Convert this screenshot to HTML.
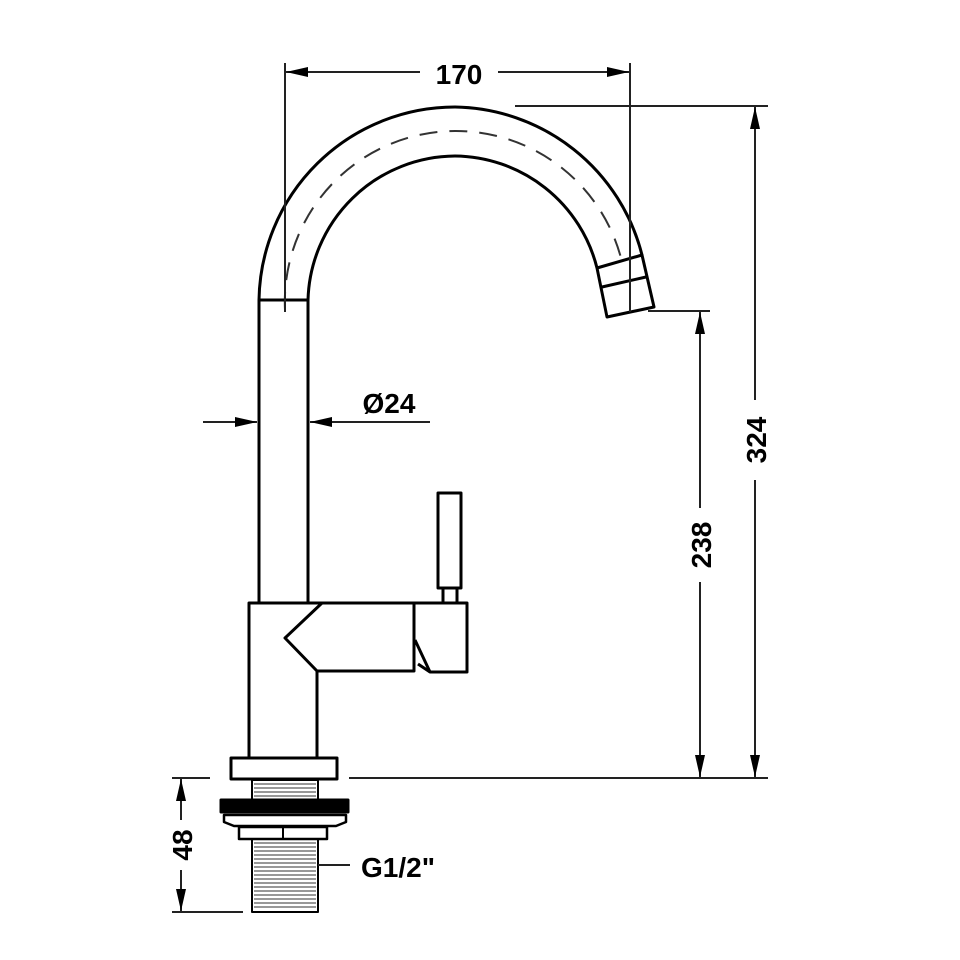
<!DOCTYPE html>
<html><head><meta charset="utf-8"><style>html,body{margin:0;padding:0;background:#fff}svg{display:block}</style></head><body>
<svg width="960" height="960" viewBox="0 0 960 960" xmlns="http://www.w3.org/2000/svg">
<defs>
<marker id="a" markerWidth="22" markerHeight="10" refX="22" refY="5" orient="auto" markerUnits="userSpaceOnUse"><path d="M0,0 L22,5 L0,10 Z" fill="#000"/></marker>
</defs>
<g fill="none" stroke="#000" stroke-width="3" stroke-linejoin="round">
<!-- spout -->
<path d="M259,300 A196,196 0 0 1 455,107 A196,196 0 0 1 642,255"/>
<path d="M308,300 A148,148 0 0 1 455,156 A148,148 0 0 1 597,268"/>
<path d="M597,268 L642,255 L654,307 L607,317 Z"/>
<line x1="602" y1="287" x2="646" y2="277"/>
<path d="M285,310 A171,171 0 0 1 455,131 A171,171 0 0 1 621,258" stroke-width="2" stroke-dasharray="18,12" stroke="#333"/>
<!-- pipe -->
<line x1="259" y1="300" x2="259" y2="603"/>
<line x1="308" y1="300" x2="308" y2="603"/>
<line x1="259" y1="300" x2="308" y2="300"/>
<!-- body -->
<path d="M249,757 L249,603 L467,603 L467,672 L430,672 L415,640"/>
<path d="M317,757 L317,671 L414,671 L414,603"/>
<path d="M322,603 L285,638 L317,671"/>
<line x1="418" y1="664" x2="430" y2="672"/>
<!-- lever -->
<rect x="438" y="493" width="23" height="95"/>
<rect x="443" y="588" width="14" height="15"/>
<!-- flange -->
<rect x="231" y="758" width="106" height="21"/>
<rect x="252" y="780" width="66" height="20" stroke-width="2"/>
<rect x="221" y="800" width="127" height="12" fill="#000"/>
<path d="M224,815 L346,815 L346,822 L336,826 L234,826 L224,822 Z" stroke-width="2.5"/>
<rect x="239" y="827" width="88" height="12" stroke-width="2.5"/>
<line x1="283" y1="827" x2="283" y2="839" stroke-width="2"/>
<rect x="252" y="839" width="66" height="73" stroke-width="2"/>
</g>
<g stroke="#777" stroke-width="1.5">
<line x1="254" y1="784" x2="316" y2="784"/><line x1="254" y1="788" x2="316" y2="788"/><line x1="254" y1="792" x2="316" y2="792"/><line x1="254" y1="796" x2="316" y2="796"/>
<line x1="254" y1="843" x2="316" y2="843"/><line x1="254" y1="847" x2="316" y2="847"/><line x1="254" y1="851" x2="316" y2="851"/><line x1="254" y1="855" x2="316" y2="855"/><line x1="254" y1="859" x2="316" y2="859"/><line x1="254" y1="863" x2="316" y2="863"/><line x1="254" y1="867" x2="316" y2="867"/><line x1="254" y1="871" x2="316" y2="871"/><line x1="254" y1="875" x2="316" y2="875"/><line x1="254" y1="879" x2="316" y2="879"/><line x1="254" y1="883" x2="316" y2="883"/><line x1="254" y1="887" x2="316" y2="887"/><line x1="254" y1="891" x2="316" y2="891"/><line x1="254" y1="895" x2="316" y2="895"/><line x1="254" y1="899" x2="316" y2="899"/><line x1="254" y1="903" x2="316" y2="903"/><line x1="254" y1="907" x2="316" y2="907"/>
</g>
<g stroke="#222" stroke-width="2" fill="none">
<line x1="285" y1="63" x2="285" y2="312"/>
<line x1="630" y1="63" x2="630" y2="312"/>
<line x1="420" y1="72" x2="286" y2="72" marker-end="url(#a)"/>
<line x1="498" y1="72" x2="629" y2="72" marker-end="url(#a)"/>
<line x1="515" y1="106" x2="768" y2="106"/>
<line x1="755" y1="400" x2="755" y2="107" marker-end="url(#a)"/>
<line x1="755" y1="480" x2="755" y2="777" marker-end="url(#a)"/>
<line x1="648" y1="311" x2="710" y2="311"/>
<line x1="700" y1="508" x2="700" y2="312" marker-end="url(#a)"/>
<line x1="700" y1="582" x2="700" y2="777" marker-end="url(#a)"/>
<line x1="349" y1="778" x2="768" y2="778"/>
<line x1="172" y1="778" x2="210" y2="778"/>
<line x1="172" y1="912" x2="243" y2="912"/>
<line x1="181" y1="820" x2="181" y2="779" marker-end="url(#a)"/>
<line x1="181" y1="870" x2="181" y2="911" marker-end="url(#a)"/>
<line x1="203" y1="422" x2="257" y2="422" marker-end="url(#a)"/>
<line x1="430" y1="422" x2="310" y2="422" marker-end="url(#a)"/>
<line x1="318" y1="865" x2="350" y2="865"/>
</g>
<g font-family="Liberation Sans, sans-serif" font-weight="bold" font-size="28" fill="#000">
<text x="459" y="84" text-anchor="middle">170</text>
<text x="389" y="413" text-anchor="middle">Ø24</text>
<text x="398" y="877" text-anchor="middle">G1/2"</text>
<text transform="translate(766,440) rotate(-90)" text-anchor="middle">324</text>
<text transform="translate(711,545) rotate(-90)" text-anchor="middle">238</text>
<text transform="translate(192,845) rotate(-90)" text-anchor="middle">48</text>
</g>
</svg>
</body></html>
